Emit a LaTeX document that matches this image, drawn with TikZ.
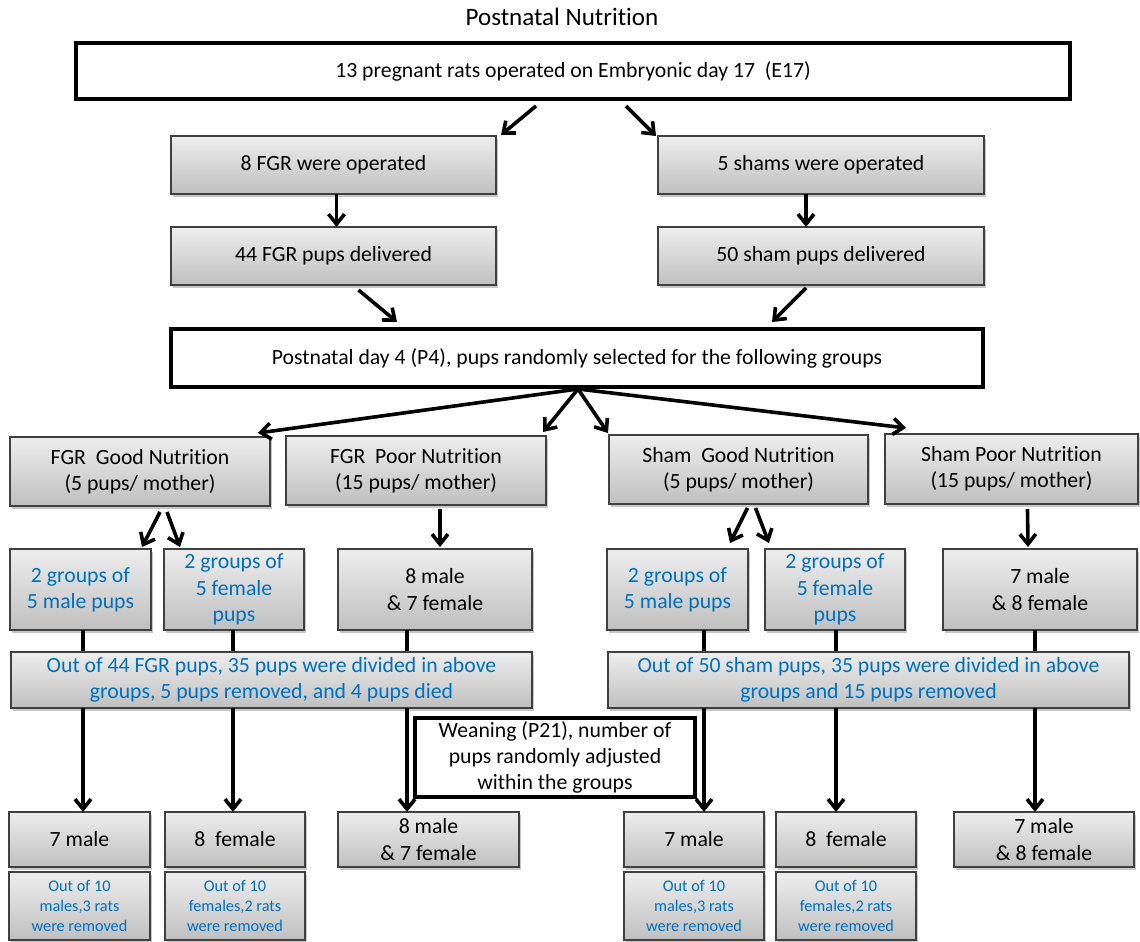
\documentclass[tikz,border=0pt]{standalone}
\usepackage{fontspec}
\setmainfont{Carlito}[Ligatures=NoCommon]
\usetikzlibrary{arrows.meta,calc,shadows}
\definecolor{oblue}{HTML}{0070C0}
\newcommand{\bx}[7]{\node[#1,minimum width={(#4-#2)*0.75pt},minimum height={(#5-#3)*0.75pt}] (#6) at ({(#2+#4)/2},{(#3+#5)/2}) {#7};}
\begin{document}
\begin{tikzpicture}[x=0.75pt,y=-0.75pt,
  gbox/.style={draw=black!75, line width=1.1pt, top color=black!7, bottom color=black!25, inner sep=0pt, outer sep=0pt, align=center, font=\fontsize{16.3}{19.8}\selectfont, drop shadow={shadow xshift=1.5pt, shadow yshift=-2pt, opacity=0.22, fill=black}},
  wbox/.style={draw=black, line width=2.8pt, fill=white, inner sep=0pt, outer sep=0pt, align=center, font=\fontsize{16.3}{19.5}\selectfont},
  bluetxt/.style={text=oblue},
  smalltxt/.style={font=\fontsize{12.2}{15}\selectfont},
  arr/.style={line width=2.7pt, -{Straight Barb[length=7.5pt,width=12pt]}},
  conn/.style={line width=2.7pt},
]
\useasboundingbox (0,0) rectangle (1140,942);
\node[font=\fontsize{18.8}{22}\selectfont] (title) at (562,17) {Postnatal Nutrition};
\bx{wbox}{76}{43}{1070}{99}{top}{13 pregnant rats operated on Embryonic day 17\ \ (E17)}
\bx{gbox}{171}{136}{496}{194}{fgrop}{8 FGR were operated}
\bx{gbox}{658}{136}{984}{194}{shamop}{5 shams were operated}
\bx{gbox}{171}{227}{496}{285}{fgrdel}{44 FGR pups delivered}
\bx{gbox}{658}{227}{984}{285}{shamdel}{50 sham pups delivered}
\bx{wbox}{171}{329}{983}{387}{p4}{Postnatal day 4 (P4), pups randomly selected for the following groups}
\bx{gbox}{10}{437}{270}{506}{fgrgood}{FGR\ \ Good Nutrition\\(5 pups/ mother)}
\bx{gbox}{286}{436}{546}{505}{fgrpoor}{FGR\ \ Poor Nutrition\\(15 pups/ mother)}
\bx{gbox}{609}{435}{868}{504}{shamgood}{Sham\ \ Good Nutrition\\(5 pups/ mother)}
\bx{gbox}{885}{434}{1138}{504}{shampoor}{Sham Poor Nutrition\\(15 pups/ mother)}
\bx{gbox,bluetxt}{10}{549}{151}{630}{gam}{2 groups of\\5 male pups}
\bx{gbox,bluetxt}{164}{549}{304}{630}{gaf}{2 groups of\\5 female\\pups}
\bx{gbox}{338}{549}{532}{630}{gamf}{8 male\\\& 7 female}
\bx{gbox,bluetxt}{607}{549}{748}{630}{gbm}{2 groups of\\5 male pups}
\bx{gbox,bluetxt}{765}{549}{905}{630}{gbf}{2 groups of\\5 female\\pups}
\bx{gbox}{943}{549}{1137}{630}{gbmf}{7 male\\\& 8 female}
% connectors behind the summary boxes
\coordinate (xa1) at (83,0); \coordinate (xa2) at (233,0); \coordinate (xa3) at (407,0);
\coordinate (xb1) at (704,0); \coordinate (xb2) at (836,0); \coordinate (xb3) at (1035,0);
\draw[conn] (xa1 |- gam.south) -- (xa1 |- 0,652);
\draw[conn] (xa2 |- gaf.south) -- (xa2 |- 0,652);
\draw[conn] (xa3 |- gamf.south) -- (xa3 |- 0,652);
\draw[conn] (xb1 |- gbm.south) -- (xb1 |- 0,652);
\draw[conn] (xb2 |- gbf.south) -- (xb2 |- 0,652);
\draw[conn] (xb3 |- gbmf.south) -- (xb3 |- 0,652);
\bx{gbox,bluetxt}{11}{652}{532}{708}{out44}{Out of 44 FGR pups, 35 pups were divided in above\\groups, 5 pups removed, and 4 pups died}
\bx{gbox,bluetxt}{608}{652}{1129}{708}{out50}{Out of 50 sham pups, 35 pups were divided in above\\groups and 15 pups removed}
\bx{wbox}{415}{718}{695}{797}{wean}{Weaning (P21), number of\\pups randomly adjusted\\within the groups}
\bx{gbox}{9}{812}{150}{867}{fam}{7 male}
\bx{gbox}{165}{812}{305}{867}{faf}{8\ \ female}
\bx{gbox}{338}{812}{519}{867}{famf}{8 male\\\& 7 female}
\bx{gbox}{624}{812}{764}{867}{fbm}{7 male}
\bx{gbox}{776}{812}{916}{867}{fbf}{8\ \ female}
\bx{gbox}{954}{812}{1134}{867}{fbmf}{7 male\\\& 8 female}
\bx{gbox,bluetxt,smalltxt}{9}{872}{150}{940}{ram}{Out of 10\\males,3 rats\\were removed}
\bx{gbox,bluetxt,smalltxt}{165}{872}{305}{940}{raf}{Out of 10\\females,2 rats\\were removed}
\bx{gbox,bluetxt,smalltxt}{624}{872}{764}{940}{rbm}{Out of 10\\males,3 rats\\were removed}
\bx{gbox,bluetxt,smalltxt}{776}{872}{916}{940}{rbf}{Out of 10\\females,2 rats\\were removed}
% arrows
\draw[arr] ($(top.south)+(-37,7)$) -- ($(fgrop.north east)+(5,-1)$);
\draw[arr] ($(top.south)+(53,7)$) -- ($(shamop.north west)+(-2,0)$);
\draw[arr] ($(fgrop.south)+(3,0)$) -- ($(fgrdel.north)+(3,0)$);
\draw[arr] ($(shamop.south)+(-15,0)$) -- ($(shamdel.north)+(-15,0)$);
\draw[arr] ($(fgrdel.south)+(25,5)$) -- ($(p4.north west)+(226,-7)$);
\draw[arr] ($(shamdel.south)+(-15,3)$) -- ($(p4.north west)+(601,-7)$);
\coordinate (fan) at ($(p4.south)+(1,2)$);
\draw[arr] (fan) -- ($(fgrgood.north east)+(-12,-4)$);
\draw[arr] (fan) -- ($(fgrpoor.north east)+(-3,-4)$);
\draw[arr] (fan) -- ($(shamgood.north west)+(-1,-2)$);
\draw[arr] (fan) -- ($(shampoor.north west)+(21,-6)$);
\draw[arr] ($(fgrgood.south)+(20,6)$) -- ($(gam.north east)+(-9,-2)$);
\draw[arr] ($(fgrgood.south)+(27,6)$) -- ($(gaf.north west)+(16,-2)$);
\draw[arr] ($(fgrpoor.south)+(24,4)$) -- ($(gamf.north)+(5,-2)$);
\draw[arr] ($(shamgood.south)+(9,4)$) -- ($(gbm.north east)+(-18,-6)$);
\draw[arr] ($(shamgood.south)+(17,4)$) -- ($(gbf.north west)+(4,-6)$);
\draw[arr] ($(shampoor.south)+(16,5)$) -- ($(gbmf.north)+(-12,-2)$);
\draw[arr] (xa1 |- out44.south) -- (xa1 |- fam.north);
\draw[arr] (xa2 |- out44.south) -- (xa2 |- faf.north);
\draw[arr] (xa3 |- out44.south) -- (xa3 |- famf.north);
\draw[arr] (xb1 |- out50.south) -- (xb1 |- fbm.north);
\draw[arr] (xb2 |- out50.south) -- (xb2 |- fbf.north);
\draw[arr] (xb3 |- out50.south) -- (xb3 |- fbmf.north);
\end{tikzpicture}
\end{document}
